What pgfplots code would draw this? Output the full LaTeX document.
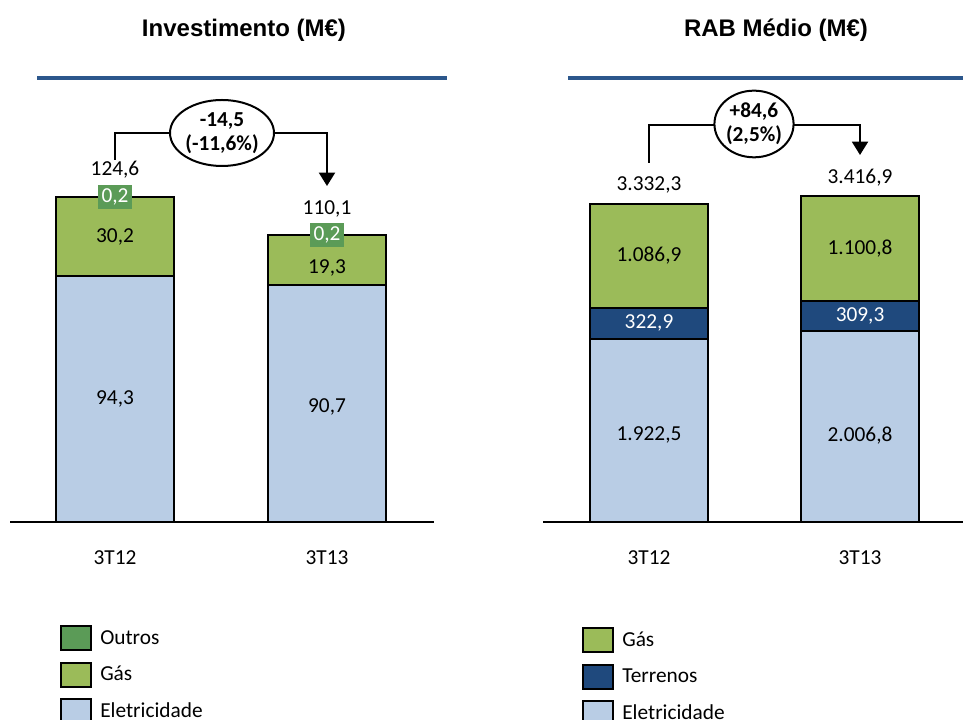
\documentclass[border=0pt]{standalone}
\usepackage{pgfplots}
\pgfplotsset{compat=1.18}
\usepackage{fontspec}
\setmainfont{Carlito}
\newfontfamily\titlefont{Liberation Sans}
\usetikzlibrary{shapes.geometric,arrows.meta}
\definecolor{elec}{RGB}{185,205,229}
\definecolor{gas}{RGB}{155,187,89}
\definecolor{outros}{RGB}{91,155,87}
\definecolor{terr}{RGB}{31,73,125}
\definecolor{rulec}{RGB}{44,87,140}
\pgfplotsset{
  mybar/.style={
    scale only axis, height=316.5pt,
    ybar stacked, bar width=88.5pt,
    ymin=0,
    axis y line=none, axis x line*=bottom,
    x axis line style={-, line width=2pt},
    xtick={0,1}, xticklabels={3T12,3T13},
    major tick length=0pt,
    xticklabel style={anchor=center, yshift=-27pt, font=\fontsize{16}{19}\selectfont},
    legend cell align=left,
    reverse legend,
    legend style={draw=none, fill=none, font=\fontsize{16}{19}\selectfont, anchor=north west, inner sep=0pt,
      row sep=7.8pt, /tikz/every odd column/.append style={column sep=4pt}},
    legend image code/.code={\draw[##1, line width=1.5pt, draw=black] (0pt,-9pt) rectangle (22.5pt,9pt);},
    every axis plot/.append style={draw=black, line width=1.5pt},
    clip=false,
  }
}
\begin{document}
\begin{tikzpicture}[x=0.75pt,y=0.75pt,font=\fontsize{16}{19}\selectfont]
\useasboundingbox (0,0) rectangle (963,720);
% titles and rules
\node[font=\titlefont\bfseries\fontsize{18}{21}\selectfont] at (244,690) {Investimento (M€)};
\node[font=\titlefont\bfseries\fontsize{18}{21}\selectfont] at (776,690) {RAB Médio (M€)};
\draw[rulec, line width=3pt] (37,642) -- (447,642);
\draw[rulec, line width=3pt] (568,642) -- (963,642);

% ---------- left axis ----------
\begin{axis}[mybar, at={(7.5pt,148.5pt)}, anchor=south west, width=318pt,
  xmin=-0.4953, xmax=1.5047, ymax=161.81,
  legend style={at={(0.1179,-0.2441)}}]
\addplot[fill=elec] coordinates {(0,94.3) (1,90.7)};
\addlegendentry{Eletricidade}
\addplot[fill=gas] coordinates {(0,30.2) (1,19.3)};
\addlegendentry{Gás}
\addplot[fill=outros, nodes near coords={0,2},
  every node near coord/.style={anchor=center, fill=outros, draw=none, text=white,
  inner xsep=2.5pt, inner ysep=0pt, minimum height=18pt, font=\fontsize{16}{19}\selectfont}]
  coordinates {(0,0.2) (1,0.2)};
\addlegendentry{Outros}
\coordinate (L1) at (axis cs:0,109.4);
\coordinate (L2) at (axis cs:0,47.15);
\coordinate (L3) at (axis cs:1,97.4);
\coordinate (L4) at (axis cs:1,44.2);
\coordinate (L5) at (axis cs:0,135.0);
\coordinate (L6) at (axis cs:1,120.0);
\end{axis}
\node at (L1) {30,2};
\node at (L2) {94,3};
\node at (L3) {19,3};
\node at (L4) {90,7};
\node at (L5) {124,6};
\node at (L6) {110,1};

% ---------- right axis ----------
\begin{axis}[mybar, at={(407.25pt,148.5pt)}, anchor=south west, width=315pt,
  xmin=-0.5024, xmax=1.488, ymax=4423,
  legend style={at={(0.0929,-0.2489)}}]
\addplot[fill=elec] coordinates {(0,1922.5) (1,2006.8)};
\addlegendentry{Eletricidade}
\addplot[fill=terr] coordinates {(0,322.9) (1,309.3)};
\addlegendentry{Terrenos}
\addplot[fill=gas] coordinates {(0,1086.9) (1,1100.8)};
\addlegendentry{Gás}
\coordinate (R1) at (axis cs:0,2788.85);
\coordinate (R2) at (axis cs:0,2083.95);
\coordinate (R3) at (axis cs:0,912);
\coordinate (R4) at (axis cs:1,2866.5);
\coordinate (R5) at (axis cs:1,2161.45);
\coordinate (R6) at (axis cs:1,901);
\coordinate (R7) at (axis cs:0,3531);
\coordinate (R8) at (axis cs:1,3605);
\end{axis}
\node at (R1) {1.086,9};
\node[text=white] at (R2) {322,9};
\node at (R3) {1.922,5};
\node at (R4) {1.100,8};
\node[text=white] at (R5) {309,3};
\node at (R6) {2.006,8};
\node at (R7) {3.332,3};
\node at (R8) {3.416,9};

% ---------- change brackets ----------
\draw[line width=1.5pt, -{Triangle[width=12pt,length=10pt]}] (115,560) -- (115,587) -- (327,587) -- (327,534);
\node[ellipse, draw, fill=white, line width=1.5pt, inner sep=0pt, minimum width=78pt, minimum height=49.5pt,
  align=center, font=\bfseries\fontsize{16}{18}\selectfont] at (222,587) {-14,5\\(-11,6\%)};
\draw[line width=1.5pt, -{Triangle[width=12pt,length=10pt]}] (649,557) -- (649,595) -- (860,595) -- (860,565);
\node[ellipse, draw, fill=white, line width=1.5pt, inner sep=0pt, minimum width=58pt, minimum height=50pt,
  align=center, font=\bfseries\fontsize{16}{18}\selectfont] at (754,596) {+84,6\\(2,5\%)};
\end{tikzpicture}
\end{document}
